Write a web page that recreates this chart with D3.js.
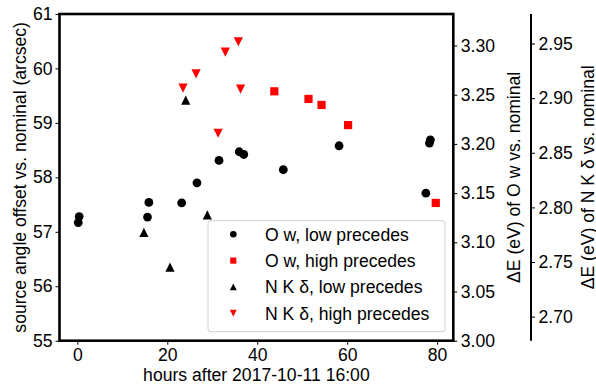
<!DOCTYPE html>
<html>
<head>
<meta charset="utf-8">
<script src="https://cdn.jsdelivr.net/npm/d3@7/dist/d3.min.js"></script>
<style>
body { margin: 0; background: #fff; }
text { font-family: "Liberation Sans", Arial, sans-serif; }
</style>
</head>
<body>
<svg id="chart" width="596" height="385"></svg>
<script>
// hours after 2017-10-11 16:00 and source angle offset (arcsec)
var owLowHours = [0.4, 0.2, 15.9, 15.6, 23.2, 26.6, 31.5, 36.0, 37.0, 45.8, 58.2, 78.5, 78.3, 77.5];
var owLowOffset = [57.28, 57.17, 57.54, 57.27, 57.53, 57.90, 58.31, 58.47, 58.42, 58.14, 58.58, 58.69, 58.63, 57.71];
var owHighHours = [43.8, 51.4, 54.3, 60.2, 79.7];
var owHighOffset = [59.58, 59.44, 59.33, 58.96, 57.53];
var nkLowHours = [14.8, 20.6, 28.9, 24.1];
var nkLowOffset = [56.99, 56.35, 57.31, 59.42];
var nkHighHours = [23.5, 26.4, 32.9, 35.8, 36.3, 31.3];
var nkHighOffset = [59.64, 59.90, 60.30, 60.49, 59.62, 58.81];

var xTicks = [0, 20, 40, 60, 80];
var yTicks = [55, 56, 57, 58, 59, 60, 61];
var owTicks = [3.00, 3.05, 3.10, 3.15, 3.20, 3.25, 3.30];
var nkTicks = [2.70, 2.75, 2.80, 2.85, 2.90, 2.95];

var legendLabels = ["O w, low precedes", "O w, high precedes", "N K δ, low precedes", "N K δ, high precedes"];

var plotL = 59.5, plotR = 453.3, plotT = 14, plotB = 340.7;
var fs = "17.6px";
var svg = d3.select("#chart");

var x = d3.scaleLinear().domain([-3.97, 83.6]).range([plotL, plotR]);
var y = d3.scaleLinear().domain([55, 61]).range([plotB, plotT]);
var yOw = d3.scaleLinear().domain([3.0, 3.332]).range([plotB, plotT]);
var yNk = d3.scaleLinear().domain([2.678, 2.977]).range([plotB, plotT]);

function styleAxis(g) {
  g.select(".domain").remove();
  g.selectAll(".tick line").attr("stroke", "#000").attr("stroke-width", 1);
  g.selectAll(".tick text").attr("fill", "#000").style("font-size", fs)
    .style("font-family", "'Liberation Sans', Arial, sans-serif");
}

svg.append("g").attr("transform", "translate(0," + plotB + ")")
  .call(d3.axisBottom(x).tickValues(xTicks).tickFormat(d3.format("d")).tickSize(4).tickPadding(4))
  .call(styleAxis);
svg.append("g").attr("transform", "translate(" + plotL + ",0)")
  .call(d3.axisLeft(y).tickValues(yTicks).tickFormat(d3.format("d")).tickSize(4).tickPadding(3))
  .call(styleAxis);
svg.append("g").attr("transform", "translate(" + plotR + ",0)")
  .call(d3.axisRight(yOw).tickValues(owTicks).tickFormat(d3.format(".2f")).tickSize(4).tickPadding(3.5))
  .call(styleAxis);
svg.append("g").attr("transform", "translate(531,0)")
  .call(d3.axisRight(yNk).tickValues(nkTicks).tickFormat(d3.format(".2f")).tickSize(4).tickPadding(3.5))
  .call(styleAxis);

// spines
svg.append("rect").attr("x", plotL).attr("y", plotT).attr("width", plotR - plotL).attr("height", plotB - plotT)
  .attr("fill", "none").attr("stroke", "#000").attr("stroke-width", 2.6);
svg.append("line").attr("x1", 531).attr("x2", 531).attr("y1", plotT).attr("y2", plotB)
  .attr("stroke", "#000").attr("stroke-width", 2);

// markers
function markerPath(kind, r) {
  if (kind === "circle") return d3.symbol().type(d3.symbolCircle).size(Math.PI * r * r)();
  if (kind === "square") return "M" + (-r) + "," + (-r) + "H" + r + "V" + r + "H" + (-r) + "Z";
  if (kind === "up") return "M0," + (-r) + "L" + r + "," + r + "L" + (-r) + "," + r + "Z";
  return "M0," + r + "L" + r + "," + (-r) + "L" + (-r) + "," + (-r) + "Z";
}

var series = [
  {hours: owLowHours, offset: owLowOffset, kind: "circle", color: "#000", r: 4.4},
  {hours: owHighHours, offset: owHighOffset, kind: "square", color: "#ff0000", r: 4.1},
  {hours: nkLowHours, offset: nkLowOffset, kind: "up", color: "#000", r: 4.6},
  {hours: nkHighHours, offset: nkHighOffset, kind: "down", color: "#ff0000", r: 4.6}
];

series.forEach(function (s) {
  svg.append("g").selectAll("path")
    .data(d3.range(s.hours.length))
    .join("path")
    .attr("d", markerPath(s.kind, s.r))
    .attr("transform", function (i) { return "translate(" + x(s.hours[i]) + "," + y(s.offset[i]) + ")"; })
    .attr("fill", s.color);
});

// legend
var lg = svg.append("g");
lg.append("rect").attr("x", 208).attr("y", 220.7).attr("width", 237).attr("height", 111)
  .attr("rx", 3).attr("fill", "#fff").attr("fill-opacity", 0.8).attr("stroke", "#d0d0d0").attr("stroke-width", 1);
series.forEach(function (s, i) {
  var cy = 234.3 + i * 26.3;
  lg.append("path").attr("d", markerPath(s.kind, s.r * 0.75))
    .attr("transform", "translate(233.3," + cy + ")").attr("fill", s.color);
  lg.append("text").attr("x", 265).attr("y", cy + 6.3).style("font-size", fs).text(legendLabels[i]);
});

// axis labels
svg.append("text").attr("x", (plotL + plotR) / 2).attr("y", 381).attr("text-anchor", "middle")
  .style("font-size", fs).text("hours after 2017-10-11 16:00");
svg.append("text").attr("transform", "translate(25.5," + (plotT + plotB) / 2 + ") rotate(-90)")
  .attr("text-anchor", "middle").style("font-size", fs)
  .text("source angle offset vs. nominal (arcsec)");
svg.append("text").attr("transform", "translate(520," + (plotT + plotB) / 2 + ") rotate(-90)")
  .attr("text-anchor", "middle").style("font-size", fs)
  .text("ΔE (eV) of O w vs. nominal");
svg.append("text").attr("transform", "translate(593.5," + (plotT + plotB) / 2 + ") rotate(-90)")
  .attr("text-anchor", "middle").style("font-size", fs)
  .text("ΔE (eV) of N K δ vs. nominal");
</script>
</body>
</html>
